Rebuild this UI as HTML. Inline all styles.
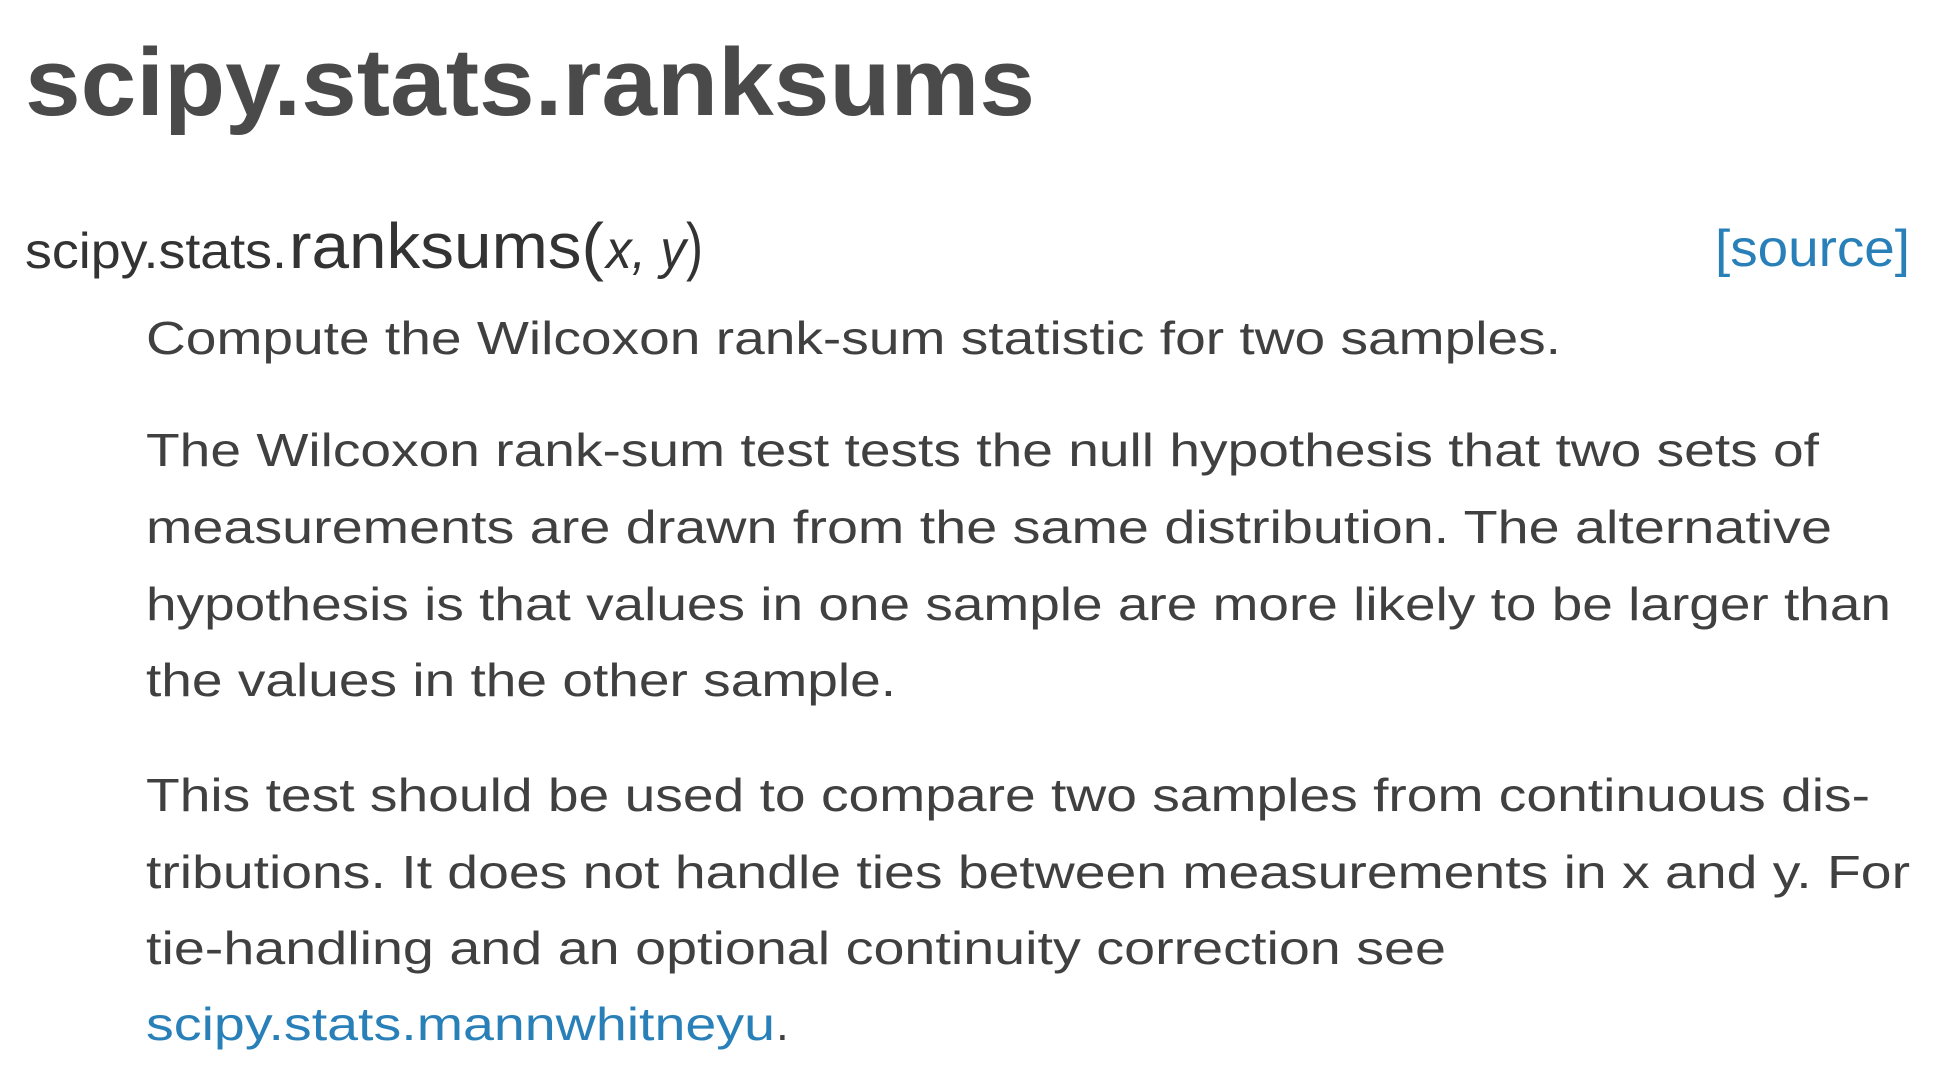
<!DOCTYPE html>
<html><head><meta charset="utf-8"><style>
html,body{margin:0;padding:0;background:#fff;width:1950px;height:1086px;overflow:hidden}
svg{display:block}
text{font-family:"Liberation Sans",sans-serif}
</style></head><body>
<svg width="1950" height="1086" viewBox="0 0 1950 1086">
<text x="25" y="115" font-size="96" font-weight="bold" fill="#4a4a4a" textLength="1010" lengthAdjust="spacingAndGlyphs">scipy.stats.ranksums</text>
<g fill="#333">
<text x="25" y="268" font-size="50" textLength="262" lengthAdjust="spacingAndGlyphs">scipy.stats.</text>
<text x="289" y="268" font-size="64" textLength="315" lengthAdjust="spacingAndGlyphs">ranksums(</text>
<text x="606" y="268" font-size="54" font-style="italic" textLength="80" lengthAdjust="spacingAndGlyphs">x, y</text>
<text x="686" y="268" font-size="64" textLength="17" lengthAdjust="spacingAndGlyphs">)</text>
</g>
<text x="1715" y="266" font-size="52" fill="#2980b9" textLength="195" lengthAdjust="spacingAndGlyphs">[source]</text>
<g fill="#404040" font-size="46">
<text x="146" y="354" textLength="1415" lengthAdjust="spacingAndGlyphs">Compute the Wilcoxon rank-sum statistic for two samples.</text>
<g>
<text x="146" y="466" textLength="1673" lengthAdjust="spacingAndGlyphs">The Wilcoxon rank-sum test tests the null hypothesis that two sets of</text>
<text x="146" y="543" textLength="1686" lengthAdjust="spacingAndGlyphs">measurements are drawn from the same distribution. The alternative</text>
<text x="146" y="620" textLength="1745" lengthAdjust="spacingAndGlyphs">hypothesis is that values in one sample are more likely to be larger than</text>
<text x="146" y="696" textLength="750" lengthAdjust="spacingAndGlyphs">the values in the other sample.</text>
</g>
<g>
<text x="146" y="811" textLength="1724" lengthAdjust="spacingAndGlyphs">This test should be used to compare two samples from continuous dis-</text>
<text x="146" y="888" textLength="1764" lengthAdjust="spacingAndGlyphs">tributions. It does not handle ties between measurements in x and y. For</text>
<text x="146" y="964" textLength="1300" lengthAdjust="spacingAndGlyphs">tie-handling and an optional continuity correction see</text>
<text x="146" y="1040" fill="#2980b9" textLength="629" lengthAdjust="spacingAndGlyphs">scipy.stats.mannwhitneyu</text>
<text x="776" y="1040">.</text>
</g>
</g>
</svg>
</body></html>
